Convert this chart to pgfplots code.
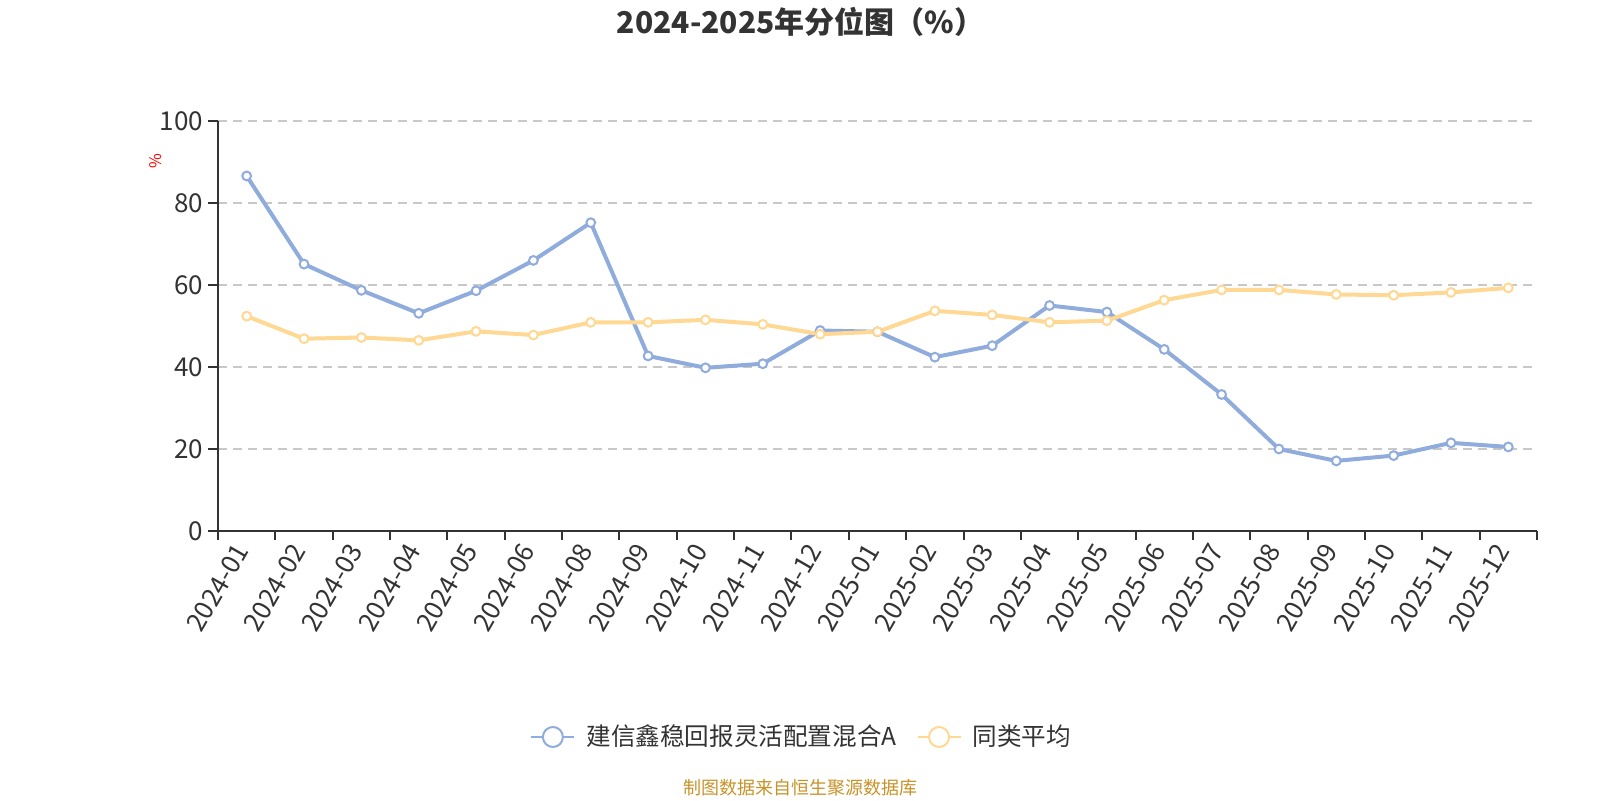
\documentclass[border=0pt]{standalone}
\usepackage{pgfplots}
\pgfplotsset{compat=1.18}
\usepackage{fontspec}
\setmainfont{Noto Sans CJK SC}
\definecolor{blueC}{RGB}{143,172,220}
\definecolor{yelC}{RGB}{255,216,148}
\definecolor{txt}{RGB}{51,51,51}
\definecolor{gridC}{RGB}{200,200,200}
\definecolor{footC}{RGB}{200,146,40}
\begin{document}
\begin{tikzpicture}
\path[use as bounding box] (0,0) rectangle (800pt,400pt);
\begin{axis}[
  at={(109pt,134.5pt)}, anchor=south west,
  scale only axis, width=659.5pt, height=205pt,
  xmin=-0.5, xmax=22.5, ymin=0, ymax=100,
  axis lines=left, axis line style={-, txt, line width=1pt},
  /pgf/number format/assume math mode=true,
  ytick={0,20,...,100},
  ymajorgrids, grid style={gridC, dashed, dash pattern=on 4.5pt off 3pt, line width=0.8pt},
  xtick={0,...,22},
  xticklabels={2024-01,2024-02,2024-03,2024-04,2024-05,2024-06,2024-08,2024-09,2024-10,2024-11,2024-12,2025-01,2025-02,2025-03,2025-04,2025-05,2025-06,2025-07,2025-08,2025-09,2025-10,2025-11,2025-12},
  minor xtick={-0.5,0.5,...,22.5},
  major x tick style={draw=none},
  minor x tick style={txt, line width=1pt},
  y tick style={txt, line width=1pt},
  tick align=outside, major tick length=5pt, minor tick length=4.5pt,
  ticklabel style={font=\fontsize{13}{15}\selectfont, text=txt},
  yticklabel style={xshift=1pt},
  xticklabel style={rotate=60, anchor=east, yshift=1pt},
  clip=false,
  legend style={at={(0.2320,-0.5024)}, anchor=west, draw=none, fill=none,
    legend columns=2, font=\fontsize{12.3}{14}\selectfont, text=txt,
    /tikz/every even column/.append style={column sep=8pt},
    legend cell align=left},
]
\addplot[blueC, line width=2pt, mark=*, mark size=2.2pt,
  mark options={fill=white, line width=1pt},
  legend image code/.code={\draw[blueC, line width=1pt] (0pt,0pt)--(21.5pt,0pt);
    \draw[blueC, line width=1pt, fill=white] (10.75pt,0pt) circle (5pt);
    \path (24.5pt,0pt);}]
  coordinates {
  (0,86.6) (1,65.1) (2,58.7) (3,53.1) (4,58.6) (5,66.0) (6,75.2) (7,42.7)
  (8,39.8) (9,40.8) (10,48.9) (11,48.6) (12,42.4) (13,45.2) (14,55.0) (15,53.4)
  (16,44.3) (17,33.3) (18,20.0) (19,17.1) (20,18.4) (21,21.5) (22,20.5)
};
\addlegendentry{建信鑫稳回报灵活配置混合A}
\addplot[yelC, line width=2pt, mark=*, mark size=2.2pt,
  mark options={fill=white, line width=1pt},
  legend image code/.code={\draw[yelC, line width=1pt] (0pt,0pt)--(21.5pt,0pt);
    \draw[yelC, line width=1pt, fill=white] (10.75pt,0pt) circle (5pt);
    \path (24.5pt,0pt);}]
  coordinates {
  (0,52.4) (1,46.9) (2,47.2) (3,46.5) (4,48.7) (5,47.8) (6,50.9) (7,50.9)
  (8,51.5) (9,50.4) (10,48.0) (11,48.6) (12,53.7) (13,52.7) (14,50.9) (15,51.3)
  (16,56.3) (17,58.8) (18,58.8) (19,57.7) (20,57.5) (21,58.2) (22,59.3)
};
\addlegendentry{同类平均}
\node[rotate=90, text=red, font=\fontsize{8}{9}\selectfont] at (rel axis cs:-0.0470,0.903) {\%};
\end{axis}
\node[font=\bfseries\fontsize{15}{18}\selectfont, text=txt] at (400.3pt,389.2pt) {2024-2025年分位图（\%）};
\node[font=\fontsize{9}{10}\selectfont, text=footC] at (400pt,6pt) {制图数据来自恒生聚源数据库};
\end{tikzpicture}
\end{document}
